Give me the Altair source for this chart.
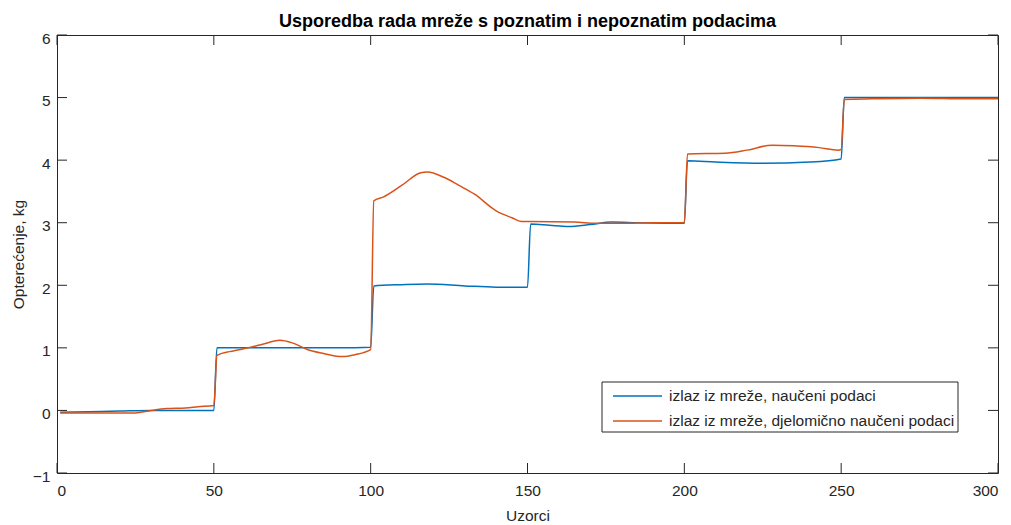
import altair as alt
import pandas as pd

TITLE = "Usporedba rada mreže s poznatim i nepoznatim podacima"
X_TITLE = "Uzorci"
Y_TITLE = "Opterećenje, kg"
SERIES = ["izlaz iz mreže, naučeni podaci", "izlaz iz mreže, djelomično naučeni podaci"]
COLORS = ["#0072BD", "#D95319"]

X_TICKS = [0, 50, 100, 150, 200, 250, 300]
Y_TICKS = [-1, 0, 1, 2, 3, 4, 5, 6]

# Series 1: naučeni podaci
x1 = [1, 10, 20, 30, 40, 50, 51, 60, 70, 80, 90, 100,
      101, 110, 118, 130, 140, 150,
      151, 157, 163, 170, 177, 185, 200,
      201, 210, 225, 240, 250,
      251, 260, 280, 300]
y1 = [-0.03, -0.02, -0.01, 0.0, 0.0, 0.0, 1.0, 1.0, 1.0, 1.0, 1.0, 1.01,
      1.99, 2.01, 2.02, 1.99, 1.97, 1.97,
      2.98, 2.96, 2.94, 2.97, 3.01, 3.0, 2.99,
      3.99, 3.97, 3.95, 3.97, 4.02,
      5.0, 5.0, 5.0, 5.0]

# Series 2: djelomično naučeni podaci
x2 = [1, 10, 20, 25, 30, 35, 41, 45, 50,
      51, 55, 58, 65, 71, 75, 80, 85, 91, 95, 100,
      101, 104, 110, 116, 118, 124, 128, 133, 140, 145, 148,
      151, 165, 172, 180, 190, 200,
      201, 213, 220, 228, 235, 243, 249, 250,
      251, 260, 275, 290, 300]
y2 = [-0.04, -0.04, -0.04, -0.04, 0.0, 0.03, 0.04, 0.06, 0.08,
      0.88, 0.94, 0.97, 1.05, 1.12, 1.08, 0.97, 0.91, 0.86, 0.89, 0.97,
      3.35, 3.41, 3.6, 3.8, 3.81, 3.71, 3.6, 3.46, 3.19, 3.08, 3.02,
      3.02, 3.01, 2.99, 2.99, 3.0, 3.0,
      4.10, 4.11, 4.16, 4.24, 4.23, 4.2, 4.16, 4.17,
      4.97, 4.98, 4.99, 4.98, 4.98]

W, H = 941, 438
FONT = "Liberation Sans"
INK = "#262626"
TICK = 10
FS = 15.5

df = pd.concat([
    pd.DataFrame({"x": x1, "y": y1, "s": SERIES[0], "o": 0}),
    pd.DataFrame({"x": x2, "y": y2, "s": SERIES[1], "o": 1}),
])

xs = alt.Scale(domain=[0, 300], nice=False, zero=False)
ys = alt.Scale(domain=[-1, 6], nice=False, zero=False)
cs = alt.Scale(domain=SERIES, range=COLORS)

lines = alt.Chart(df).mark_line(strokeWidth=1.5, interpolate="monotone").encode(
    x=alt.X("x:Q", scale=xs,
            axis=alt.Axis(values=X_TICKS, title=X_TITLE, ticks=False, grid=False, format="d",
                          labelPadding=10, titlePadding=10, domain=False)),
    y=alt.Y("y:Q", scale=ys,
            axis=alt.Axis(values=Y_TICKS, title=Y_TITLE, ticks=False, grid=False, format="d",
                          labelPadding=7, titlePadding=6, labelOffset=3, domain=False)),
    color=alt.Color("s:N", scale=cs, legend=None),
    order="o:Q",
    detail="s:N",
)

xt = pd.DataFrame({"x": X_TICKS})
yt = pd.DataFrame({"y": Y_TICKS})

bottom_ticks = alt.Chart(xt).mark_rule(color=INK, strokeWidth=1).encode(
    x=alt.X("x:Q", scale=xs), y=alt.value(H), y2=alt.value(H - TICK))
top_ticks = alt.Chart(xt).mark_rule(color=INK, strokeWidth=1).encode(
    x=alt.X("x:Q", scale=xs), y=alt.value(0), y2=alt.value(TICK))
left_ticks = alt.Chart(yt).mark_rule(color=INK, strokeWidth=1).encode(
    y=alt.Y("y:Q", scale=ys), x=alt.value(0), x2=alt.value(TICK))
right_ticks = alt.Chart(yt).mark_rule(color=INK, strokeWidth=1).encode(
    y=alt.Y("y:Q", scale=ys), x=alt.value(W), x2=alt.value(W - TICK))

# Legend box (pixel placement inside plot area)
LX, LY, LW, LH = 545, 347, 356, 50
ROW_Y = [LY + 14, LY + 39]
leg_df = pd.DataFrame({"s": SERIES})

legend_box = alt.Chart(leg_df.head(1)).mark_rect(
    fill="white", stroke=INK, strokeWidth=1).encode(
    x=alt.value(LX), x2=alt.value(LX + LW), y=alt.value(LY), y2=alt.value(LY + LH))

legend_layers = [legend_box]
for i, name in enumerate(SERIES):
    row = leg_df.iloc[[i]]
    legend_layers.append(
        alt.Chart(row).mark_rule(strokeWidth=1.5).encode(
            x=alt.value(LX + 11), x2=alt.value(LX + 60), y=alt.value(ROW_Y[i]),
            color=alt.Color("s:N", scale=cs, legend=None)))
    legend_layers.append(
        alt.Chart(row).mark_text(align="left", baseline="middle", font=FONT,
                                 fontSize=FS, color=INK).encode(
            x=alt.value(LX + 67), y=alt.value(ROW_Y[i]), text="s:N"))

chart = alt.layer(bottom_ticks, top_ticks, left_ticks, right_ticks, lines,
                  *legend_layers).properties(
    width=W, height=H,
    background="white",
    autosize=alt.AutoSizeParams(type="none"),
    padding={"left": 49, "top": 27, "right": 5, "bottom": 52},
    title=alt.Title(TITLE, fontSize=18, font=FONT, fontWeight="bold", color="black",
                    anchor="middle", frame="group", offset=0),
).configure_view(stroke=INK, strokeWidth=1).configure_axis(
    labelFont=FONT, titleFont=FONT, labelFontSize=FS, titleFontSize=FS,
    labelColor=INK, titleColor=INK, titleFontWeight="normal",
)

chart.save("out.html", embed_options={"renderer": "svg", "actions": False})
